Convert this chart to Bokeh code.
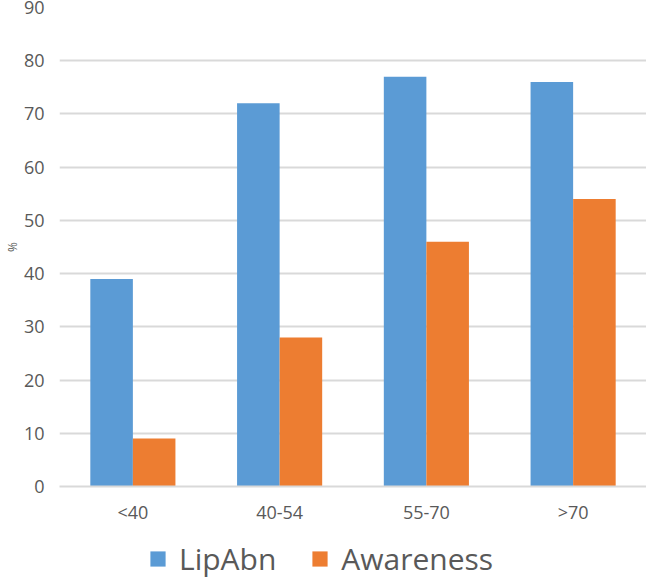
from bokeh.plotting import figure
from bokeh.models import ColumnDataSource, FactorRange, Legend, LegendItem
from bokeh.layouts import column
from bokeh.transform import dodge
from bokeh.embed import file_html
from bokeh.resources import INLINE

# Age groups and the share (%) of each measure
age_groups = ["<40", "40-54", "55-70", ">70"]
lipabn = [39, 72, 77, 76]
awareness = [9, 28, 46, 54]
y_ticks = list(range(0, 100, 10))

BLUE = "#5B9BD5"
ORANGE = "#ED7D31"
GRID = "#D9D9D9"
TEXT = "#595959"
FONT = "Open Sans"

source = ColumnDataSource(dict(group=age_groups, lipabn=lipabn, awareness=awareness))

chart = figure(
    width=646, height=539,
    x_range=FactorRange(*age_groups, range_padding=0),
    y_range=(0, 90),
    output_backend="svg", toolbar_location=None,
    min_border_left=59, min_border_right=0, min_border_top=7, min_border_bottom=53,
)
chart.frame_align = False
chart.outline_line_color = None

bar_w = 0.29
chart.vbar(x=dodge("group", -bar_w / 2, range=chart.x_range), top="lipabn", width=bar_w,
           source=source, fill_color=BLUE, line_color=None)
chart.vbar(x=dodge("group", bar_w / 2, range=chart.x_range), top="awareness", width=bar_w,
           source=source, fill_color=ORANGE, line_color=None)

# y axis
chart.yaxis.ticker = y_ticks
chart.yaxis.axis_line_color = None
chart.yaxis.major_tick_line_color = None
chart.yaxis.minor_tick_line_color = None
chart.yaxis.major_tick_out = 0
chart.yaxis.major_tick_in = 0
chart.yaxis.minor_tick_out = 0
chart.yaxis.minor_tick_in = 0
chart.yaxis.major_label_text_font = FONT
chart.yaxis.major_label_text_font_size = "18px"
chart.yaxis.major_label_text_color = TEXT
chart.yaxis.major_label_standoff = 15
chart.yaxis.axis_label = "%"
chart.yaxis.axis_label_text_font = FONT
chart.yaxis.axis_label_text_font_style = "normal"
chart.yaxis.axis_label_text_font_size = "12px"
chart.yaxis.axis_label_text_color = TEXT
chart.yaxis.axis_label_standoff = 0

# x axis
chart.xaxis.axis_line_color = GRID
chart.xaxis.axis_line_width = 2
chart.xaxis.major_tick_line_color = None
chart.xaxis.minor_tick_line_color = None
chart.xaxis.major_tick_out = 0
chart.xaxis.major_tick_in = 0
chart.xaxis.minor_tick_out = 0
chart.xaxis.minor_tick_in = 0
chart.xaxis.major_label_text_font = FONT
chart.xaxis.major_label_text_font_size = "18px"
chart.xaxis.major_label_text_color = TEXT
chart.xaxis.major_label_standoff = 13

chart.xgrid.grid_line_color = None
chart.ygrid.grid_line_color = GRID
chart.ygrid.grid_line_width = 2

# legend strip under the chart
key = figure(
    width=646, height=40, x_range=(0, 1), y_range=(0, 1),
    output_backend="svg", toolbar_location=None,
    min_border=0, min_border_left=0, min_border_right=0, min_border_top=0, min_border_bottom=0,
)
key.frame_align = False
key.axis.visible = False
key.grid.visible = False
key.outline_line_color = None
# swatch renderers kept outside the visible range; they only feed the legend
k1 = key.vbar(x=[5], bottom=[4], top=[5], width=0.1, fill_color=BLUE, line_color=None)
k2 = key.vbar(x=[5], bottom=[4], top=[5], width=0.1, fill_color=ORANGE, line_color=None)

legend = Legend(
    items=[LegendItem(label="LipAbn", renderers=[k1]),
           LegendItem(label="Awareness", renderers=[k2])],
    orientation="horizontal", location=(148, 0),
    label_text_font=FONT, label_text_font_size="30px", label_text_color=TEXT,
    glyph_width=19, glyph_height=19, label_standoff=12, spacing=34,
    border_line_color=None, background_fill_alpha=0, margin=0, padding=0,
)
key.add_layout(legend, "center")

p = column(chart, key, spacing=0)

open("out.html", "w").write(file_html(p, INLINE))
